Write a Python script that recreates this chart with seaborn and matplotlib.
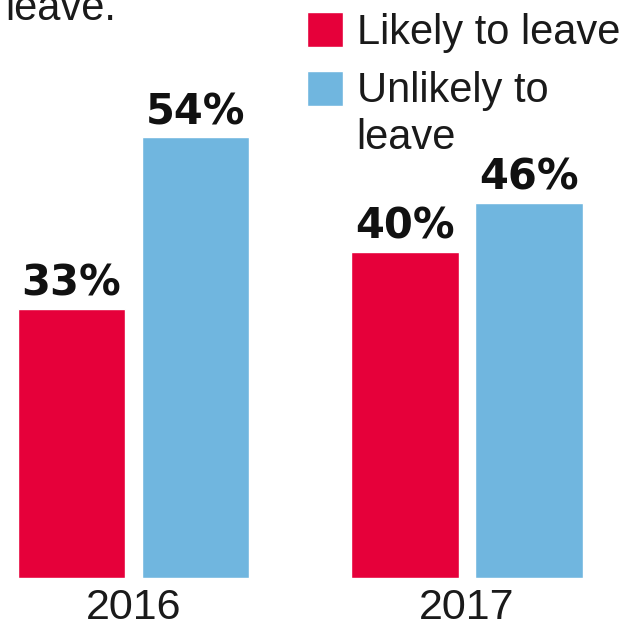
import matplotlib
matplotlib.use("Agg")
import matplotlib.pyplot as plt
import seaborn as sns
import pandas as pd

years = ["2016", "2017"]
likely = [33, 40]
unlikely = [54, 46]
series_names = ["Likely to leave", "Unlikely to leave"]
legend_labels = ["Likely to leave", "Unlikely to\nleave"]
colors = ["#E6003A", "#70B6DF"]

df = pd.DataFrame({
    "year": years * 2,
    "share": likely + unlikely,
    "group": [series_names[0]] * len(years) + [series_names[1]] * len(years),
})

sns.set_theme(style="white")
plt.rcParams["font.family"] = ["Liberation Sans", "DejaVu Sans"]

W, H = 640, 627
fig = plt.figure(figsize=(W / 100, H / 100), dpi=100)
ax = fig.add_axes([0, (H - 578) / H, 1, 578 / H])

sns.barplot(data=df, x="year", y="share", hue="group", hue_order=series_names,
            palette=colors, width=0.744, gap=0.137, ax=ax, legend=True,
            saturation=1)

ax.set_xlim(-133.5 / 333.5, (W - 133.5) / 333.5)
ax.set_ylim(0, 578 / 8.16)

for cont in ax.containers:
    ax.bar_label(cont, fmt="%d%%", padding=3, fontsize=30,
                 fontweight="bold", family="DejaVu Sans", color="#111111")

sns.despine(ax=ax, left=True, bottom=True)
ax.set_yticks([])
ax.set_xlabel("")
ax.set_ylabel("")
ax.tick_params(axis="x", length=0, pad=7)
for lab in ax.get_xticklabels():
    lab.set_fontsize(31)
    lab.set_color("#1a1a1a")

handles, _ = ax.get_legend_handles_labels()
leg = ax.legend(handles, legend_labels, loc="upper left",
                bbox_to_anchor=(307 / W, 1 - 12 / H), bbox_transform=fig.transFigure,
                frameon=False, fontsize=30, handlelength=0.86, handleheight=0.9,
                handletextpad=0.33, labelspacing=0.45, borderpad=0, borderaxespad=0,
                labelcolor="#1a1a1a")
# keep the second swatch level with the first line of its two-line label
blue_patch = leg.legend_handles[1]
blue_patch.set_y(blue_patch.get_y() + 19.5)

fig.text(5 / W, 1 - 20 / H, "leave.", fontsize=30, color="#1a1a1a",
         va="baseline", ha="left")

fig.savefig("out.png", dpi=100, facecolor="white")
